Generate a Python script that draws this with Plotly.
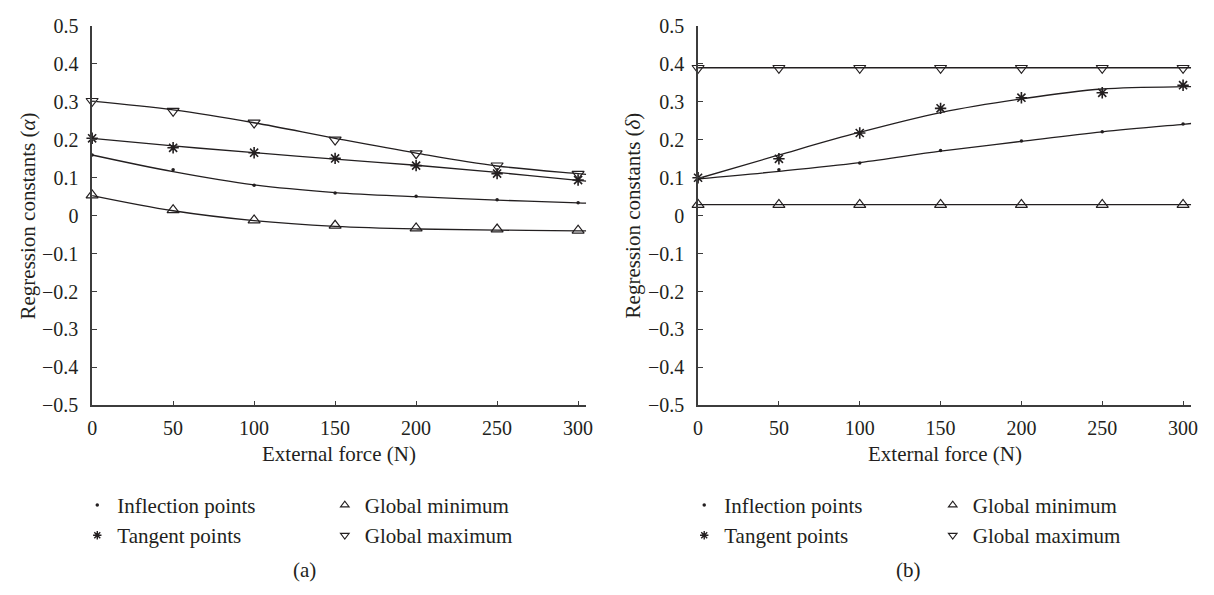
import plotly.graph_objects as go

# ---------------- data ----------------
force = [0, 50, 100, 150, 200, 250, 300]
fit_force = [0, 50, 100, 150, 200, 250, 300, 305]

# panel (a): regression constant alpha
a_inflection = [0.160, 0.121, 0.080, 0.060, 0.051, 0.042, 0.034]
a_tangent = [0.204, 0.179, 0.166, 0.151, 0.132, 0.111, 0.094]
a_gmin = [0.054, 0.015, -0.012, -0.026, -0.033, -0.036, -0.039]
a_gmax = [0.302, 0.276, 0.245, 0.200, 0.164, 0.132, 0.110]

a_inflection_fit = [0.160, 0.116, 0.081, 0.061, 0.050, 0.041, 0.034, 0.033]
a_tangent_fit = [0.204, 0.184, 0.166, 0.149, 0.133, 0.114, 0.093, 0.091]
a_gmin_fit = [0.053, 0.013, -0.013, -0.028, -0.035, -0.038, -0.040, -0.040]
a_gmax_fit = [0.302, 0.279, 0.245, 0.204, 0.165, 0.131, 0.111, 0.109]

# panel (b): regression constant delta
b_inflection = [0.097, 0.121, 0.139, 0.172, 0.197, 0.221, 0.242]
b_tangent = [0.100, 0.150, 0.218, 0.283, 0.311, 0.324, 0.344]
b_gmin = [0.029, 0.029, 0.029, 0.029, 0.029, 0.029, 0.029]
b_gmax = [0.389, 0.389, 0.389, 0.389, 0.389, 0.389, 0.389]

b_inflection_fit = [0.097, 0.117, 0.140, 0.170, 0.196, 0.221, 0.241, 0.243]
b_tangent_fit = [0.098, 0.160, 0.220, 0.272, 0.308, 0.334, 0.340, 0.340]
b_gmin_fit = [0.029, 0.029, 0.029, 0.029, 0.029, 0.029, 0.029, 0.029]
b_gmax_fit = [0.390, 0.390, 0.390, 0.390, 0.390, 0.390, 0.390, 0.390]

x_ticks = [0, 50, 100, 150, 200, 250, 300]
y_ticks = [-0.5, -0.4, -0.3, -0.2, -0.1, 0, 0.1, 0.2, 0.3, 0.4, 0.5]
y_ticktext = ["\u22120.5", "\u22120.4", "\u22120.3", "\u22120.2", "\u22120.1", "0",
              "0.1", "0.2", "0.3", "0.4", "0.5"]

series_names = ["Inflection points", "Tangent points", "Global minimum", "Global maximum"]
x_title = "External force (N)"
y_titles = ["Regression constants (<i>\u03b1</i>)", "Regression constants (<i>\u03b4</i>)"]
panel_labels = ["(a)", "(b)"]

# ---------------- style ----------------
FONT = "Liberation Serif, Times New Roman, serif"
INK = "#231f20"
AXC = "#3c3c3c"
W, H = 1214, 595
TXT = 21


def px(xp):
    return xp / W


def py(yp):
    return 1 - yp / H


marker_styles = {
    "Inflection points": dict(symbol="circle", size=3.5, color=INK, line=dict(width=0)),
    "Tangent points": dict(symbol="asterisk-open", size=9.5, color=INK, line=dict(width=1.6, color=INK)),
    "Global minimum": dict(symbol="triangle-up-open", size=10.5, color=INK, line=dict(width=1.2, color=INK)),
    "Global maximum": dict(symbol="triangle-down-open", size=10.5, color=INK, line=dict(width=1.2, color=INK)),
}
legend_marker_styles = {
    "Inflection points": dict(symbol="circle", size=3.5, color=INK, line=dict(width=0)),
    "Tangent points": dict(symbol="asterisk-open", size=7, color=INK, line=dict(width=1.4, color=INK)),
    "Global minimum": dict(symbol="triangle-up-open", size=7.5, color=INK, line=dict(width=1.1, color=INK)),
    "Global maximum": dict(symbol="triangle-down-open", size=7.5, color=INK, line=dict(width=1.1, color=INK)),
}

fig = go.Figure()

panels = [
    ("x", "y", [a_inflection, a_tangent, a_gmin, a_gmax],
     [a_inflection_fit, a_tangent_fit, a_gmin_fit, a_gmax_fit], ["legend", "legend", "legend2", "legend2"]),
    ("x2", "y2", [b_inflection, b_tangent, b_gmin, b_gmax],
     [b_inflection_fit, b_tangent_fit, b_gmin_fit, b_gmax_fit], ["legend3", "legend3", "legend4", "legend4"]),
]

for xa, ya, vals, fits, legs in panels:
    for name, f in zip(series_names, fits):
        fig.add_trace(go.Scatter(
            x=fit_force, y=f, xaxis=xa, yaxis=ya, mode="lines",
            line=dict(color=INK, width=1.3, shape="spline", smoothing=1.0),
            showlegend=False, hoverinfo="skip"))
    for name, v in zip(series_names, vals):
        fig.add_trace(go.Scatter(
            x=force, y=v, xaxis=xa, yaxis=ya, mode="markers",
            marker=marker_styles[name], cliponaxis=False,
            showlegend=False, name=name))
    for name, lg in zip(series_names, legs):
        fig.add_trace(go.Scatter(
            x=[None], y=[None], xaxis=xa, yaxis=ya, mode="markers",
            marker=legend_marker_styles[name], name=name,
            showlegend=True, legend=lg))

axis_common = dict(
    showgrid=False, zeroline=False, showline=True, linecolor=AXC, linewidth=1.5,
    ticks="inside", ticklen=5, tickwidth=1.3, tickcolor=AXC, ticklabeloverflow="allow",
    tickfont=dict(family=FONT, size=20, color=INK),
)

y_dom = [py(409.5), py(15.6)]
x_dom_a = [px(88), px(587)]
x_dom_b = [px(700), px(1198)]

fig.update_layout(
    width=W, height=H,
    margin=dict(l=0, r=0, t=0, b=0),
    paper_bgcolor="white", plot_bgcolor="white",
    font=dict(family=FONT, size=TXT, color=INK),
    xaxis=dict(domain=x_dom_a, range=[0, 305], tickvals=x_ticks, anchor="y",
               ticklabelstandoff=4, **axis_common),
    yaxis=dict(domain=y_dom, range=[-0.5, 0.5], tickvals=y_ticks, ticktext=y_ticktext,
               anchor="x", ticklabelstandoff=8, **axis_common),
    xaxis2=dict(domain=x_dom_b, range=[0, 305], tickvals=x_ticks, anchor="y2",
                ticklabelstandoff=4, **axis_common),
    yaxis2=dict(domain=y_dom, range=[-0.5, 0.5], tickvals=y_ticks, ticktext=y_ticktext,
                anchor="x2", ticklabelstandoff=8, **axis_common),
)

leg_common = dict(orientation="v", xanchor="left", yanchor="top", bgcolor="rgba(0,0,0,0)",
                  font=dict(family=FONT, size=TXT, color=INK), itemwidth=30,
                  tracegroupgap=0, itemclick=False, itemdoubleclick=False)
leg_y = py(492)
fig.update_layout(
    legend=dict(x=px(73), y=leg_y, **leg_common),
    legend2=dict(x=px(323), y=leg_y, **leg_common),
    legend3=dict(x=px(686), y=leg_y, **leg_common),
    legend4=dict(x=px(937), y=leg_y, **leg_common),
)

annotations = []
for i, (xd, yt, pl) in enumerate(zip([x_dom_a, x_dom_b], y_titles, panel_labels)):
    cx = (xd[0] + xd[1]) / 2
    annotations.append(dict(x=cx, y=py(460), xref="paper", yref="paper", text=x_title,
                            showarrow=False, xanchor="center", yanchor="middle",
                            font=dict(family=FONT, size=TXT, color=INK)))
    annotations.append(dict(x=px(23 + 611 * i), y=(y_dom[0] + y_dom[1]) / 2, xref="paper", yref="paper",
                            text=yt, textangle=-90, showarrow=False, xanchor="center", yanchor="middle",
                            font=dict(family=FONT, size=TXT, color=INK)))
    annotations.append(dict(x=px(302 + 611 * i), y=py(580), xref="paper", yref="paper", text=pl,
                            showarrow=False, xanchor="center", yanchor="middle",
                            font=dict(family=FONT, size=TXT, color=INK)))
fig.update_layout(annotations=annotations)

# remove the browser's default page margin so the 1214x595 figure fills the window exactly
fig.write_html("out.html", config={"displayModeBar": False},
               post_script="document.body.style.margin='0';")
